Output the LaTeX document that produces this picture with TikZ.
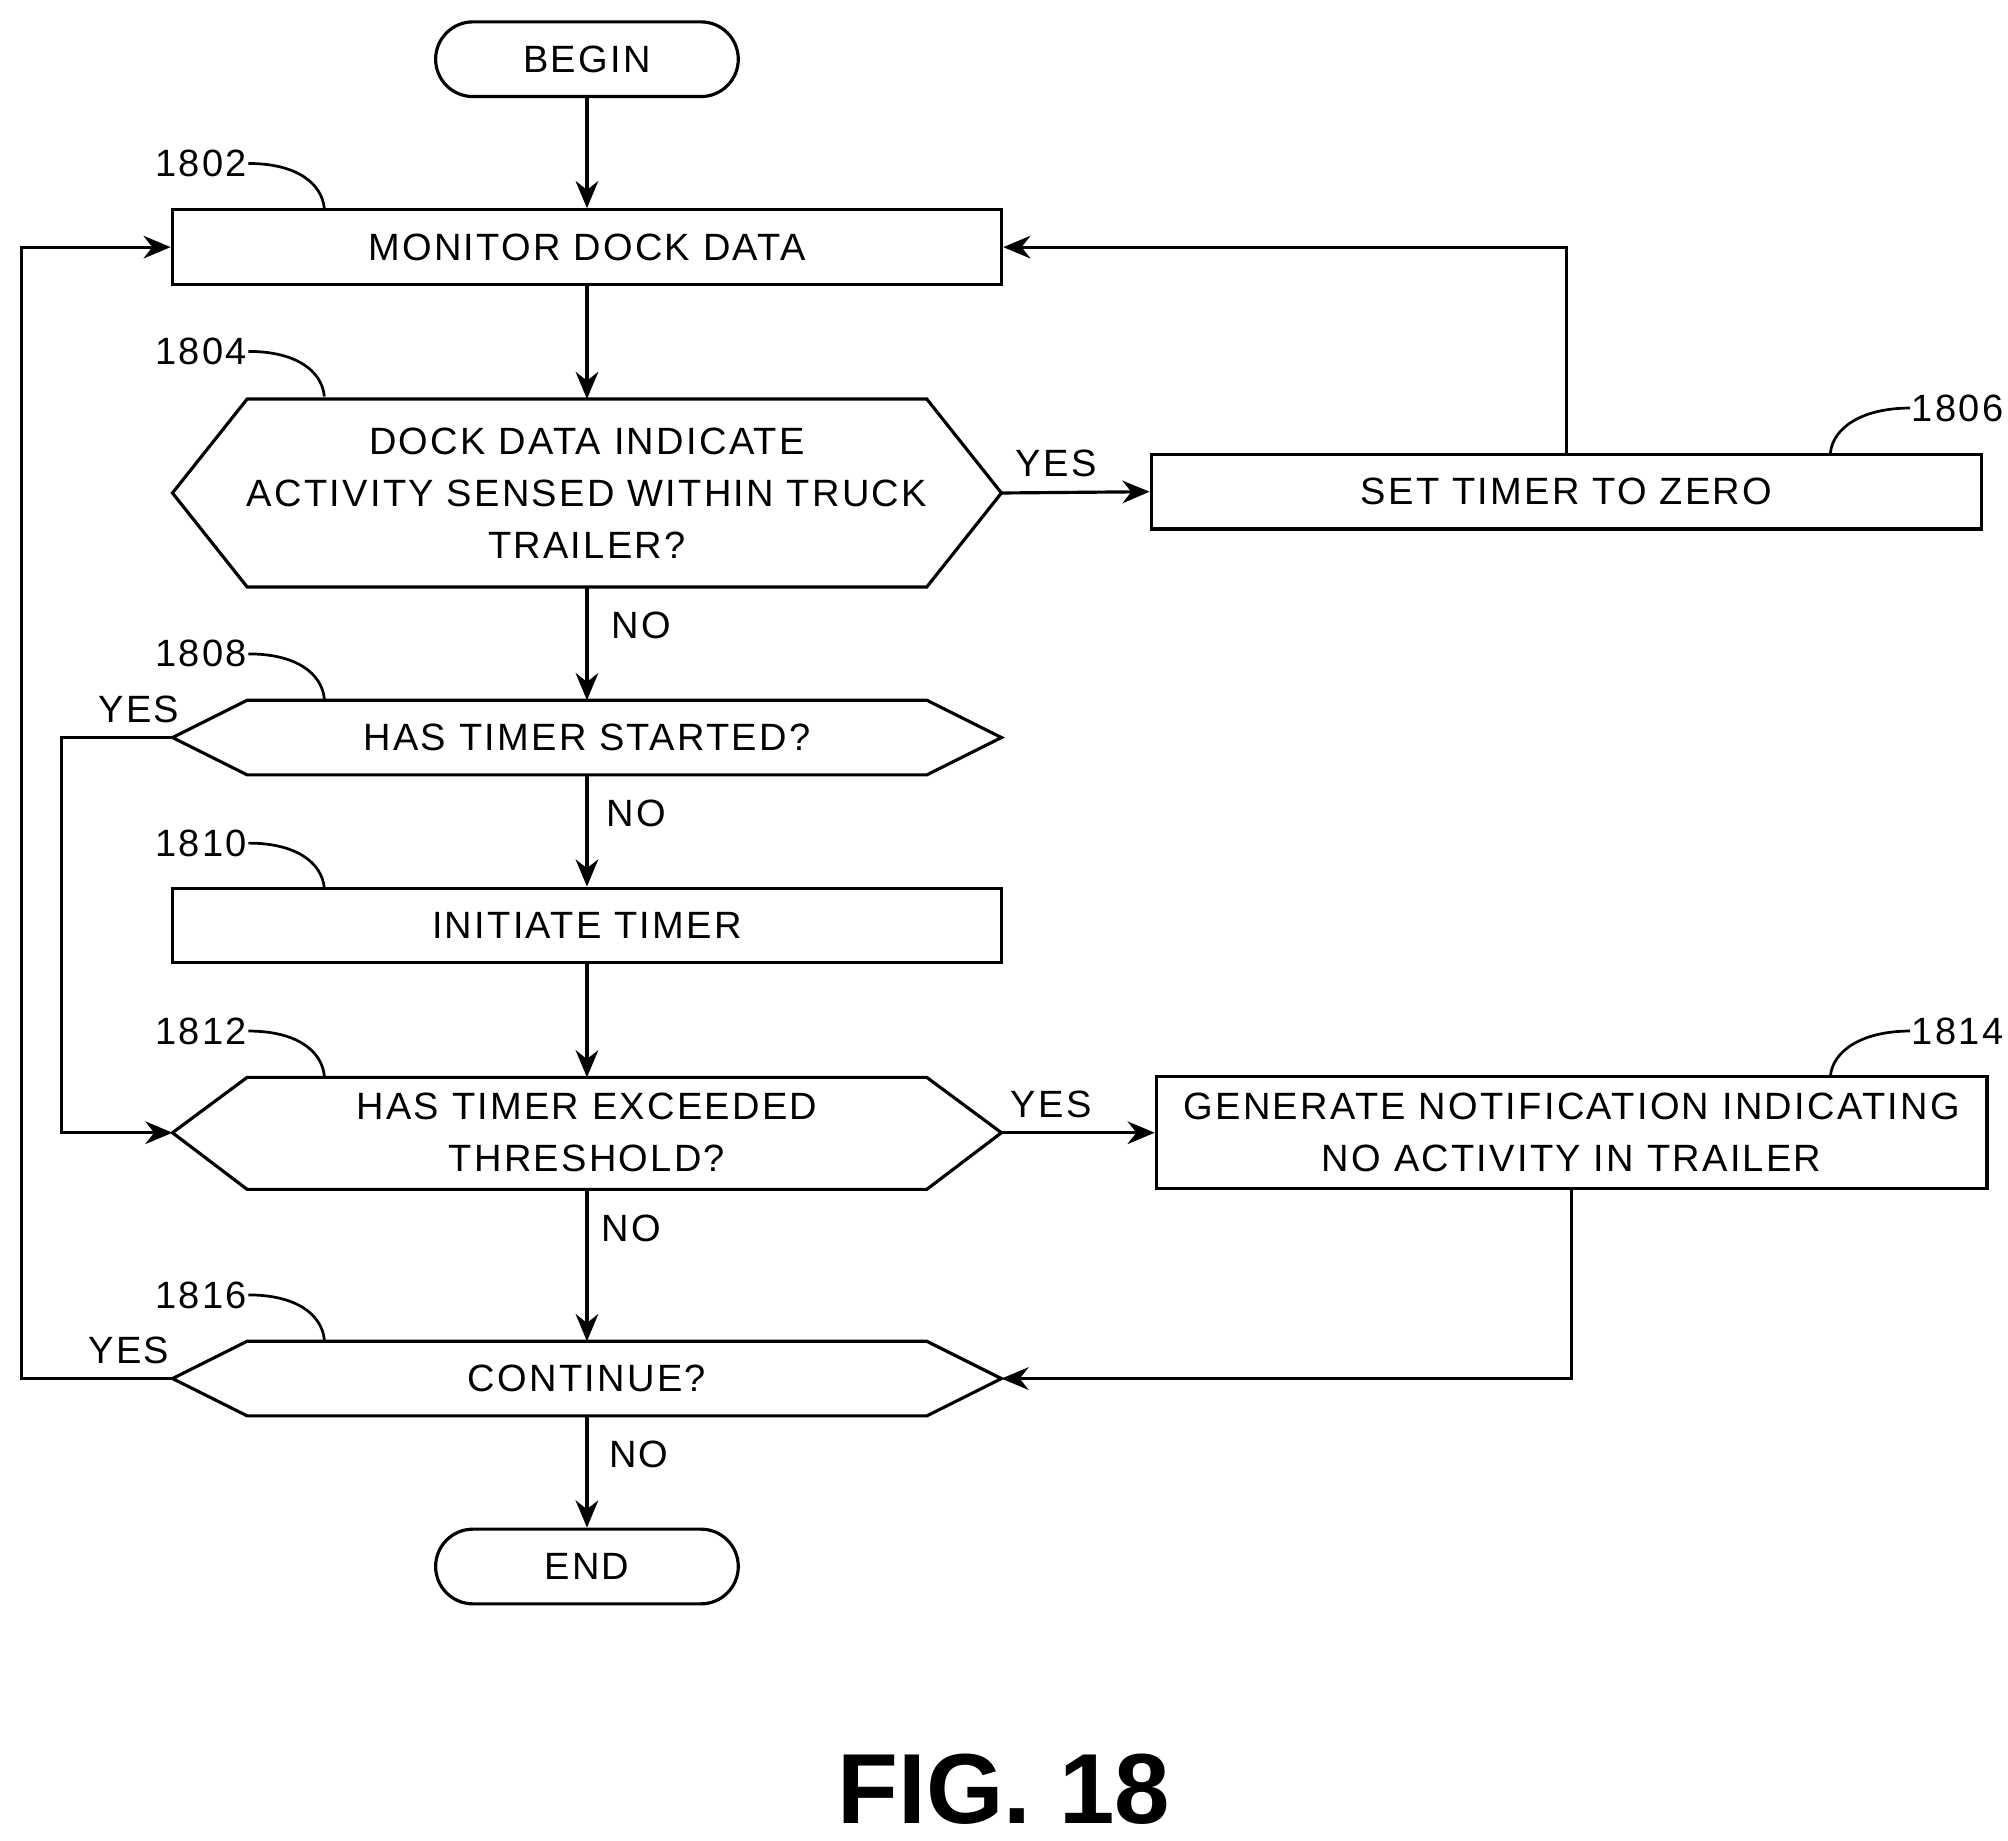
\documentclass[tikz,border=0pt]{standalone}
\usepackage{fontspec}
\setmainfont{Liberation Sans}
\usetikzlibrary{arrows.meta}
\begin{document}
\begin{tikzpicture}[x=0.01cm,y=-0.01cm,line width=0.7pt,
  txt/.style={font=\fontsize{8.4pt}{11.5pt}\selectfont\addfontfeatures{LetterSpace=6},align=center,inner sep=0},
  box/.style={draw,minimum width=6.44cm,minimum height=0.58cm,txt},
  term/.style={draw,rounded corners=0.29cm,minimum width=2.35cm,minimum height=0.58cm,txt},
  arr/.style={-{Stealth[length=6pt,width=5pt]}},
  ref/.style={txt,anchor=east}]
\useasboundingbox (0,0) rectangle (1560,1430);
% terminals and boxes
\node[term] (begin) at (456,46) {BEGIN};
\node[box] (monitor) at (456,192) {MONITOR DOCK DATA};
\node[box,minimum width=6.45cm] (settimer) at (1217,382) {SET TIMER TO ZERO};
\node[box] (initiate) at (456,719) {INITIATE TIMER};
\node[box,minimum width=6.45cm,minimum height=0.87cm] (generate) at (1221,880) {GENERATE NOTIFICATION INDICATING\\NO ACTIVITY IN TRAILER};
\node[term] (end) at (456,1217) {END};
% hexagons
\draw (134,383)--(192,310)--(720,310)--(778,383)--(720,456)--(192,456)--cycle;
\node[txt] (d1804) at (456,383) {DOCK DATA INDICATE\\ACTIVITY SENSED WITHIN TRUCK\\TRAILER?};
\coordinate (d1804t) at (456,310); \coordinate (d1804b) at (456,456); \coordinate (d1804r) at (778,383);
\draw (134,573)--(192,544)--(720,544)--(778,573)--(720,602)--(192,602)--cycle;
\node[txt] (d1808) at (456,573) {HAS TIMER STARTED?};
\coordinate (d1808t) at (456,544); \coordinate (d1808b) at (456,602); \coordinate (d1808l) at (134,573);
\draw (134,880)--(192,837)--(720,837)--(778,880)--(720,924)--(192,924)--cycle;
\node[txt] (d1812) at (456,880) {HAS TIMER EXCEEDED\\THRESHOLD?};
\coordinate (d1812t) at (456,837); \coordinate (d1812b) at (456,924); \coordinate (d1812l) at (134,880); \coordinate (d1812r) at (778,880);
\draw (134,1071)--(192,1042)--(720,1042)--(778,1071)--(720,1100)--(192,1100)--cycle;
\node[txt] (d1816) at (456,1071) {CONTINUE?};
\coordinate (d1816t) at (456,1042); \coordinate (d1816b) at (456,1100); \coordinate (d1816l) at (134,1071); \coordinate (d1816r) at (778,1071);
% connectors
\draw[arr] (begin) -- (monitor);
\draw[arr] (monitor) -- (d1804t);
\draw[arr] (d1804r) -- (settimer.west);
\draw[arr] (settimer.north) |- (monitor.east);
\draw[arr] (d1804b) -- (d1808t);
\draw[arr] (d1808b) -- (initiate);
\coordinate (l1) at (48,573);
\draw[arr] (d1808l) -- (l1) |- (d1812l);
\draw[arr] (initiate) -- (d1812t);
\draw[arr] (d1812r) -- (generate.west);
\draw[arr] (d1812b) -- (d1816t);
\draw[arr] (generate.south) |- (d1816r);
\coordinate (l2) at (17,1071);
\draw[arr] (d1816l) -- (l2) |- (monitor.west);
\draw[arr] (d1816b) -- (end);
% branch labels
\node[txt,anchor=west] (y1) at (788,360) {YES};
\node[txt,anchor=west] (n1) at (474,486) {NO};
\node[txt] (y2) at (108,551) {YES};
\node[txt,anchor=west] (n2) at (470,632) {NO};
\node[txt,anchor=west] (y3) at (784,858) {YES};
\node[txt,anchor=west] (n3) at (466,954) {NO};
\node[txt] (y4) at (100,1049) {YES};
\node[txt,anchor=west] (n4) at (472,1130) {NO};
% reference numerals
\foreach \n/\y in {1802/127,1804/273,1808/508,1810/655,1812/801,1816/1006}{
  \node[ref] (r\n) at (193,\y) {\n};
  \draw[line width=0.6pt] (r\n.east) .. controls (230,\y) and (250,\y+15) .. (252,\y+35);
}
\foreach \n/\y in {1806/317,1814/801}{
  \node[txt,anchor=west] (r\n) at (1484,\y) {\n};
  \draw[line width=0.6pt] (r\n.west) .. controls (1447,\y) and (1424,\y+15) .. (1422,\y+35);
}
\node[font=\bfseries\fontsize{22pt}{26pt}\selectfont,inner sep=0] (fig) at (780,1390) {FIG. 18};
\end{tikzpicture}
\end{document}
